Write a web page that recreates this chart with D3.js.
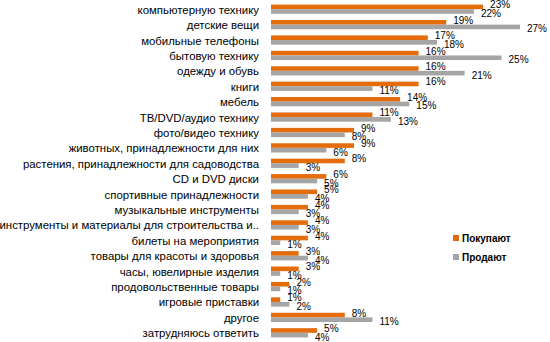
<!DOCTYPE html>
<html><head><meta charset="utf-8">
<script src="https://cdnjs.cloudflare.com/ajax/libs/d3/7.8.5/d3.min.js"></script>
<style>body{margin:0;background:#fff}svg{display:block}text{font-family:"Liberation Sans",Arial,sans-serif}</style>
</head><body><svg id="c" width="550" height="342"></svg>
<script>
const categories = ["компьютерную технику","детские вещи","мобильные телефоны","бытовую технику","одежду и обувь","книги","мебель","ТВ/DVD/аудио технику","фото/видео технику","животных, принадлежности для них","растения, принадлежности для садоводства","CD и DVD диски","спортивные принадлежности","музыкальные инструменты","инструменты и материалы для строительства и..","билеты на мероприятия","товары для красоты и здоровья","часы, ювелирные изделия","продовольственные товары","игровые приставки","другое","затрудняюсь ответить"];
const buy  = [23,19,17,16,16,16,14,11,9,9,8,6,5,4,4,4,3,3,2,1,8,5];
const sell = [22,27,18,25,21,11,15,13,8,6,3,5,4,3,3,1,4,1,1,2,11,4];
const seriesNames = ["Покупают","Продают"];
const colors = ["#E46C0A","#A5A5A5"];

const svg = d3.select("#c");
const x = d3.scaleLinear().domain([0,27]).range([271,520]);
const y = d3.scaleBand().domain(categories).range([1.5,340.5]).paddingInner(0.4).paddingOuter(0.2);
const inner = d3.scaleBand().domain([0,1]).range([0,y.bandwidth()]);
const series = [buy, sell];

categories.forEach((c,i)=>{
  svg.append("text").attr("x",259).attr("y",y(c)+y.bandwidth()/2+0.5).attr("dy","0.35em")
    .attr("text-anchor","end").attr("font-size",11.4).attr("fill","#000").text(c);
});

series.forEach((vals,s)=>{
  svg.selectAll(null).data(vals).enter().append("rect")
    .attr("x",x(0)).attr("y",(d,i)=>y(categories[i])+inner(s))
    .attr("width",d=>x(d)-x(0)).attr("height",inner.bandwidth())
    .attr("fill",colors[s]);
  svg.selectAll(null).data(vals).enter().append("text")
    .attr("x",d=>x(d)+7).attr("y",(d,i)=>y(categories[i])+inner(s)+inner.bandwidth()/2+(s===0?-2:2))
    .attr("dy","0.35em").attr("font-size",10).attr("fill","#000").text(d=>d+"%");
});

const lg = svg.append("g");
seriesNames.forEach((n,s)=>{
  const yy = 238 + s*19;
  lg.append("rect").attr("x",453).attr("y",yy-3).attr("width",6).attr("height",6).attr("fill",colors[s]);
  lg.append("text").attr("x",462).attr("y",yy).attr("dy","0.35em").attr("font-size",10)
    .attr("font-weight","bold").attr("fill","#000").text(n);
});
</script></body></html>
